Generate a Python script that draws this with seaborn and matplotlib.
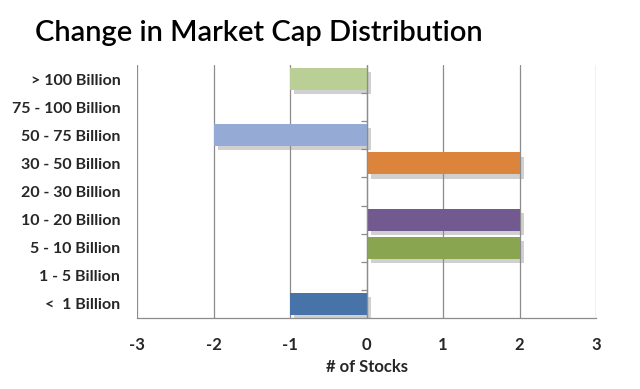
import matplotlib
matplotlib.use("Agg")
import matplotlib.pyplot as plt
import matplotlib.patheffects as pe
import seaborn as sns
import pandas as pd

categories = ["> 100 Billion", "75 - 100 Billion", "50 - 75 Billion", "30 - 50 Billion",
              "20 - 30 Billion", "10 - 20 Billion", "5 - 10 Billion", "1 - 5 Billion", "<  1 Billion"]
values = [-1, 0, -2, 2, 0, 2, 2, 0, -1]
colors = ["#b9cf96", "#ffffff", "#95abd5", "#dd843c", "#ffffff", "#72598f", "#8aa54f", "#ffffff", "#4773a8"]
x_ticks = [-3, -2, -1, 0, 1, 2, 3]

sns.set_theme(style="white")
plt.rcParams['font.family'] = ['Lato', 'DejaVu Sans']

df = pd.DataFrame({"cat": categories, "val": values})

fig = plt.figure(figsize=(6.4, 3.89), dpi=100)
ax = fig.add_axes([137/640, 1-318/389, (596-137)/640, (318-65)/389])

sns.barplot(data=df, y="cat", x="val", hue="cat", palette=colors, order=categories,
            orient="h", width=0.78, legend=False, ax=ax, saturation=1)
for p, v in zip(ax.patches, values):
    if v == 0:
        p.set_visible(False)
    else:
        p.set_path_effects([pe.SimplePatchShadow(offset=(3, -3), shadow_rgbFace="#8a8a8a", alpha=0.4),
                            pe.Normal()])
        p.set_linewidth(0)

ax.set_xlim(-3, 3)
ax.set_ylim(len(categories) - 0.5, -0.5)
ax.set_xticks(x_ticks)
ax.set_xticklabels([str(t) for t in x_ticks], fontsize=12, fontweight="bold")
ax.xaxis.grid(True, color="#8c8c8c", linewidth=0.9)
ax.set_axisbelow(True)
ax.tick_params(axis="x", direction="out", length=5, color="#8c8c8c", width=0.9, pad=9)
ax.tick_params(axis="y", length=0, pad=12)
for lbl in ax.get_yticklabels():
    lbl.set_fontsize(11.5)
    lbl.set_fontweight("bold")
for s in ["top", "right", "left"]:
    ax.spines[s].set_visible(False)
ax.spines["bottom"].set_color("#8c8c8c")
ax.spines["bottom"].set_linewidth(0.9)

# vertical axis at zero with small boundary ticks
ax.axvline(0, color="#8c8c8c", linewidth=0.9, zorder=1)
bounds = [i + 0.5 for i in range(len(categories) - 1)]
ax.hlines(bounds, -0.07, 0, color="#8c8c8c", linewidth=0.9, zorder=1)

ax.set_ylabel("")
ax.set_xlabel("# of Stocks", fontsize=12, fontweight="bold", labelpad=4)

fig.text(35/640, 1-33/389, "Change in Market Cap Distribution", fontsize=21, fontweight="semibold",
         va="center", ha="left", color="#000000")

fig.savefig("out.png", dpi=100)
